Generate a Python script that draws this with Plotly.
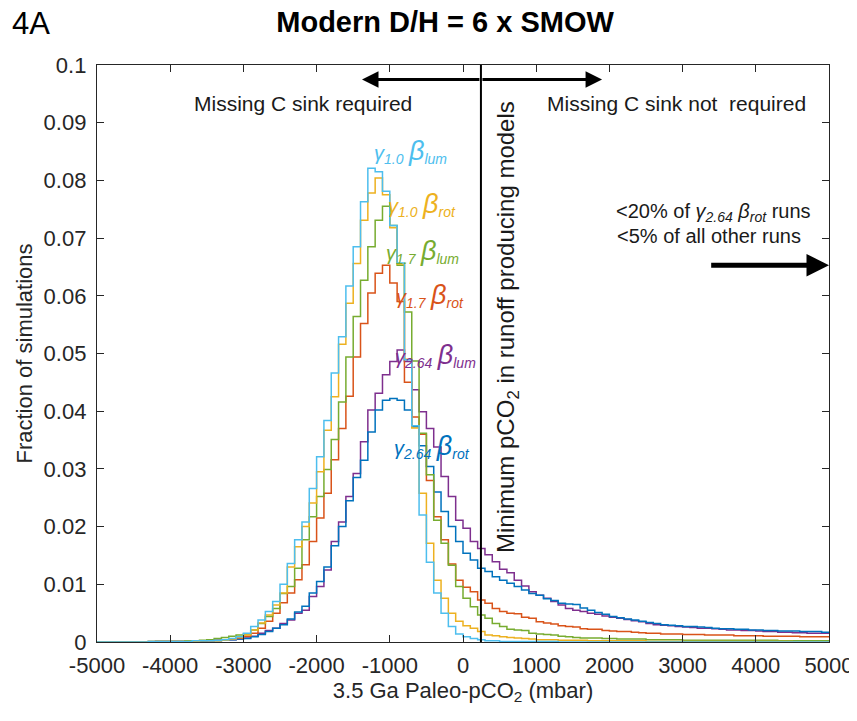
import numpy as np
import plotly.graph_objects as go

# bin left edges (mbar), 100 mbar wide
bin_start = -5000
bin_width = 100

# fraction of simulations per bin (bins -5000 .. 4900)
g10_lum = [
    0, 0, 0, 0, 0, 0, 0, 0.0001, 0.0001, 0.0001,
    0.0001, 0.0001, 0.0001, 0.0002, 0.0002, 0.0002, 0.0003, 0.0004, 0.0006, 0.0009,
    0.0015, 0.0027, 0.0038, 0.0053, 0.0070, 0.0100, 0.0136, 0.0177, 0.0208, 0.0266,
    0.0321, 0.0384, 0.0466, 0.0529, 0.0617, 0.0685, 0.0763, 0.0821, 0.0815, 0.0781,
    0.0722, 0.0657, 0.0489, 0.0375, 0.0220, 0.0138, 0.0085, 0.0050, 0.0027, 0.0014,
    0.0009, 0.0006, 0.0004, 0.0002, 0.0002, 0.0001, 0.0001, 0.0001, 0.0001, 0.0001,
    0.0001, 0.0001, 0.0001, 0, 0, 0, 0, 0, 0, 0,
    0, 0, 0, 0, 0, 0, 0, 0, 0, 0,
    0, 0, 0, 0, 0, 0, 0, 0, 0, 0,
    0, 0, 0, 0, 0, 0, 0, 0, 0, 0,
]
g10_rot = [
    0, 0, 0, 0, 0, 0, 0, 0, 0.0001, 0.0001,
    0.0001, 0.0001, 0.0001, 0.0001, 0.0002, 0.0002, 0.0002, 0.0003, 0.0005, 0.0008,
    0.0012, 0.0021, 0.0033, 0.0047, 0.0064, 0.0085, 0.0130, 0.0165, 0.0200, 0.0241,
    0.0295, 0.0367, 0.0425, 0.0516, 0.0587, 0.0656, 0.0731, 0.0778, 0.0804, 0.0775,
    0.0718, 0.0655, 0.0490, 0.0371, 0.0258, 0.0171, 0.0107, 0.0076, 0.0050, 0.0036,
    0.0028, 0.0024, 0.0018, 0.0012, 0.0011, 0.0009, 0.0008, 0.0007, 0.0006, 0.0005,
    0.0004, 0.0004, 0.0004, 0.0003, 0.0003, 0.0003, 0.0003, 0.0002, 0.0002, 0.0002,
    0.0002, 0.0002, 0.0002, 0.0002, 0.0002, 0.0001, 0.0001, 0.0001, 0.0001, 0.0001,
    0.0001, 0.0001, 0.0001, 0.0001, 0.0001, 0.0001, 0.0001, 0.0001, 0.0001, 0.0001,
    0.0001, 0.0001, 0.0001, 0.0001, 0.0001, 0, 0, 0, 0, 0,
]
g17_lum = [
    0, 0, 0, 0, 0, 0, 0, 0.0001, 0.0001, 0.0001,
    0.0001, 0.0001, 0.0002, 0.0002, 0.0003, 0.0004, 0.0006, 0.0008, 0.0010, 0.0012,
    0.0014, 0.0021, 0.0032, 0.0044, 0.0058, 0.0084, 0.0096, 0.0128, 0.0177, 0.0217,
    0.0252, 0.0299, 0.0351, 0.0416, 0.0494, 0.0564, 0.0627, 0.0685, 0.0731, 0.0755,
    0.0722, 0.0653, 0.0572, 0.0487, 0.0362, 0.0290, 0.0211, 0.0171, 0.0133, 0.0096,
    0.0076, 0.0061, 0.0047, 0.0041, 0.0032, 0.0027, 0.0022, 0.0021, 0.0020, 0.0015,
    0.0014, 0.0013, 0.0012, 0.0010, 0.0009, 0.0008, 0.0007, 0.0007, 0.0007, 0.0006,
    0.0006, 0.0005, 0.0005, 0.0005, 0.0005, 0.0004, 0.0004, 0.0004, 0.0004, 0.0004,
    0.0003, 0.0003, 0.0003, 0.0003, 0.0003, 0.0003, 0.0003, 0.0003, 0.0003, 0.0003,
    0.0003, 0.0003, 0.0003, 0.0002, 0.0002, 0.0002, 0.0002, 0.0002, 0.0002, 0.0002,
]
g17_rot = [
    0, 0, 0, 0, 0, 0, 0, 0.0001, 0.0001, 0.0001,
    0.0001, 0.0001, 0.0001, 0.0002, 0.0002, 0.0002, 0.0003, 0.0004, 0.0005, 0.0007,
    0.0010, 0.0015, 0.0024, 0.0036, 0.0050, 0.0068, 0.0085, 0.0108, 0.0134, 0.0174,
    0.0215, 0.0258, 0.0316, 0.0370, 0.0426, 0.0494, 0.0552, 0.0605, 0.0639, 0.0653,
    0.0622, 0.0590, 0.0450, 0.0390, 0.0360, 0.0280, 0.0217, 0.0177, 0.0135, 0.0107,
    0.0095, 0.0087, 0.0073, 0.0067, 0.0058, 0.0053, 0.0050, 0.0049, 0.0043, 0.0041,
    0.0035, 0.0033, 0.0031, 0.0028, 0.0027, 0.0026, 0.0023, 0.0022, 0.0022, 0.0020,
    0.0019, 0.0018, 0.0018, 0.0017, 0.0016, 0.0015, 0.0015, 0.0014, 0.0014, 0.0014,
    0.0013, 0.0013, 0.0013, 0.0012, 0.0012, 0.0012, 0.0012, 0.0011, 0.0011, 0.0011,
    0.0011, 0.0010, 0.0010, 0.0010, 0.0010, 0.0010, 0.0009, 0.0009, 0.0009, 0.0009,
]
g264_lum = [
    0, 0, 0, 0, 0, 0, 0, 0, 0.0001, 0.0001,
    0.0001, 0.0001, 0.0001, 0.0001, 0.0002, 0.0002, 0.0003, 0.0003, 0.0004, 0.0005,
    0.0007, 0.0010, 0.0015, 0.0020, 0.0024, 0.0032, 0.0038, 0.0050, 0.0055, 0.0079,
    0.0096, 0.0125, 0.0174, 0.0208, 0.0252, 0.0292, 0.0347, 0.0402, 0.0431, 0.0463,
    0.0486, 0.0506, 0.0486, 0.0437, 0.0399, 0.0370, 0.0338, 0.0287, 0.0252, 0.0211,
    0.0197, 0.0174, 0.0162, 0.0151, 0.0139, 0.0126, 0.0120, 0.0107, 0.0097, 0.0087,
    0.0081, 0.0076, 0.0070, 0.0064, 0.0058, 0.0055, 0.0053, 0.0050, 0.0048, 0.0045,
    0.0043, 0.0041, 0.0039, 0.0037, 0.0035, 0.0032, 0.0030, 0.0029, 0.0028, 0.0027,
    0.0026, 0.0025, 0.0024, 0.0024, 0.0023, 0.0022, 0.0021, 0.0021, 0.0020, 0.0020,
    0.0019, 0.0018, 0.0018, 0.0017, 0.0017, 0.0016, 0.0016, 0.0015, 0.0015, 0.0015,
]
g264_rot = [
    0, 0, 0, 0, 0, 0, 0, 0, 0.0001, 0.0001,
    0.0001, 0.0001, 0.0001, 0.0001, 0.0001, 0.0002, 0.0002, 0.0003, 0.0004, 0.0005,
    0.0006, 0.0009, 0.0013, 0.0018, 0.0024, 0.0030, 0.0040, 0.0052, 0.0062, 0.0085,
    0.0105, 0.0130, 0.0167, 0.0200, 0.0245, 0.0285, 0.0315, 0.0364, 0.0402, 0.0419,
    0.0422, 0.0419, 0.0402, 0.0373, 0.0340, 0.0304, 0.0260, 0.0226, 0.0200, 0.0174,
    0.0154, 0.0142, 0.0128, 0.0122, 0.0113, 0.0107, 0.0102, 0.0096, 0.0090, 0.0084,
    0.0081, 0.0075, 0.0072, 0.0067, 0.0066, 0.0065, 0.0059, 0.0055, 0.0051, 0.0048,
    0.0044, 0.0042, 0.0040, 0.0038, 0.0036, 0.0034, 0.0032, 0.0030, 0.0029, 0.0028,
    0.0027, 0.0027, 0.0026, 0.0025, 0.0024, 0.0023, 0.0023, 0.0022, 0.0022, 0.0021,
    0.0021, 0.0020, 0.0020, 0.0019, 0.0019, 0.0019, 0.0018, 0.0018, 0.0018, 0.0017,
]

x_ticks = [-5000, -4000, -3000, -2000, -1000, 0, 1000, 2000, 3000, 4000, 5000]
x_tick_labels = ["-5000", "-4000", "-3000", "-2000", "-1000", "0", "1000", "2000", "3000", "4000", "5000"]
y_ticks = [0, 0.01, 0.02, 0.03, 0.04, 0.05, 0.06, 0.07, 0.08, 0.09, 0.1]
y_tick_labels = ["0", "0.01", "0.02", "0.03", "0.04", "0.05", "0.06", "0.07", "0.08", "0.09", "0.1"]

min_pco2 = 245  # minimum pCO2 in runoff producing models

# drawing order (last one ends up on top)
series = [
    ("g2.64 lum", g264_lum, "#7E2F8E"),
    ("g2.64 rot", g264_rot, "#0072BD"),
    ("g1.7 rot", g17_rot, "#D95319"),
    ("g1.7 lum", g17_lum, "#77AC30"),
    ("g1.0 rot", g10_rot, "#EDB120"),
    ("g1.0 lum", g10_lum, "#4DBEEE"),
]

font_main = "Liberation Sans, Arial, sans-serif"
axis_col = "#262626"

fig = go.Figure()

# stairs outline: left edges plus the last right edge
for name, vals, color in series:
    edges = bin_start + bin_width * np.arange(len(vals) + 1)
    fig.add_trace(go.Scatter(x=edges, y=list(vals) + [vals[-1]], mode="lines",
                             line=dict(color=color, width=1.5, shape="hv"),
                             name=name, showlegend=False))

# threshold line
fig.add_trace(go.Scatter(x=[min_pco2, min_pco2], y=[0, 0.1], mode="lines",
                         line=dict(color="black", width=2), showlegend=False))

# double arrow across the threshold line
for x_end in [-1380, 1900]:
    fig.add_annotation(x=x_end, y=0.0975, ax=min_pco2, ay=0.0975, xref="x", yref="y",
                       axref="x", ayref="y", showarrow=True, arrowhead=2, arrowsize=1.1,
                       arrowwidth=3, arrowcolor="black", text="")
# arrow pointing off the right edge
fig.add_annotation(x=5000, y=0.0653, ax=3370, ay=0.0653, xref="x", yref="y",
                   axref="x", ayref="y", showarrow=True, arrowhead=2, arrowsize=0.9,
                   arrowwidth=5, arrowcolor="black", text="")


def txt(x, y, text, size=21, color="#1a1a1a", angle=0):
    fig.add_annotation(x=x, y=y, xref="x", yref="y", text=text, showarrow=False,
                       textangle=angle, font=dict(family=font_main, size=size, color=color))


txt(-2190, 0.0934, "Missing C sink required")
txt(2920, 0.0934, "Missing C sink not  required")
txt(615, 0.0546, "Minimum pCO<sub>2</sub> in runoff producing models", size=24, angle=-90)
txt(3420, 0.0745, "&lt;20% of <i>γ<sub>2.64</sub> β<sub>rot</sub></i> runs", size=20)
txt(3360, 0.0703, "&lt;5% of all other runs", size=20)


def gb(g, b):
    return "<i>γ<sub>%s</sub> <span style='font-size:27px'>β</span><sub>%s</sub></i>" % (g, b)


labels = [
    (-720, 0.0850, gb("1.0", "lum"), "#4DBEEE"),
    (-560, 0.0758, gb("1.0", "rot"), "#EDB120"),
    (-550, 0.0676, gb("1.7", "lum"), "#77AC30"),
    (-450, 0.0600, gb("1.7", "rot"), "#D95319"),
    (-380, 0.0497, gb("2.64", "lum"), "#7E2F8E"),
    (-430, 0.0338, gb("2.64", "rot"), "#0072BD"),
]
for x, y, t, c in labels:
    txt(x, y, t, size=20, color=c)

# panel tag
fig.add_annotation(x=-0.119, y=1.072, xref="paper", yref="paper", xanchor="left", yanchor="middle",
                   text="4A", showarrow=False, font=dict(family=font_main, size=31, color="black"))

# the page body adds an 8 px offset, margins account for it
fig.update_layout(
    width=857, height=721,
    margin=dict(l=89, r=36, t=57, b=87),
    paper_bgcolor="white", plot_bgcolor="white",
    title=dict(text="<b>Modern D/H = 6 x SMOW</b>", x=0.51, xanchor="center", y=0.9806, yanchor="middle",
               font=dict(family=font_main, size=29, color="black")),
    xaxis=dict(range=[-5000, 5000], tickvals=x_ticks, ticktext=x_tick_labels,
               ticks="inside", ticklen=7, tickcolor=axis_col, showline=True, linecolor=axis_col,
               linewidth=1.3, mirror="ticks", showgrid=False, zeroline=False, automargin=False,
               ticklabelstandoff=3,
               tickfont=dict(family=font_main, size=22, color=axis_col),
               title=dict(text="3.5 Ga Paleo-pCO<sub>2</sub> (mbar)", standoff=4,
                          font=dict(family=font_main, size=22, color=axis_col))),
    yaxis=dict(range=[0, 0.1], tickvals=y_ticks, ticktext=y_tick_labels,
               ticks="inside", ticklen=7, tickcolor=axis_col, showline=True, linecolor=axis_col,
               linewidth=1.3, mirror="ticks", showgrid=False, zeroline=False, automargin=False,
               ticklabelstandoff=5,
               tickfont=dict(family=font_main, size=22, color=axis_col),
               title=dict(text="Fraction of simulations", standoff=4,
                          font=dict(family=font_main, size=22, color=axis_col))),
)

fig.write_html("out.html")
